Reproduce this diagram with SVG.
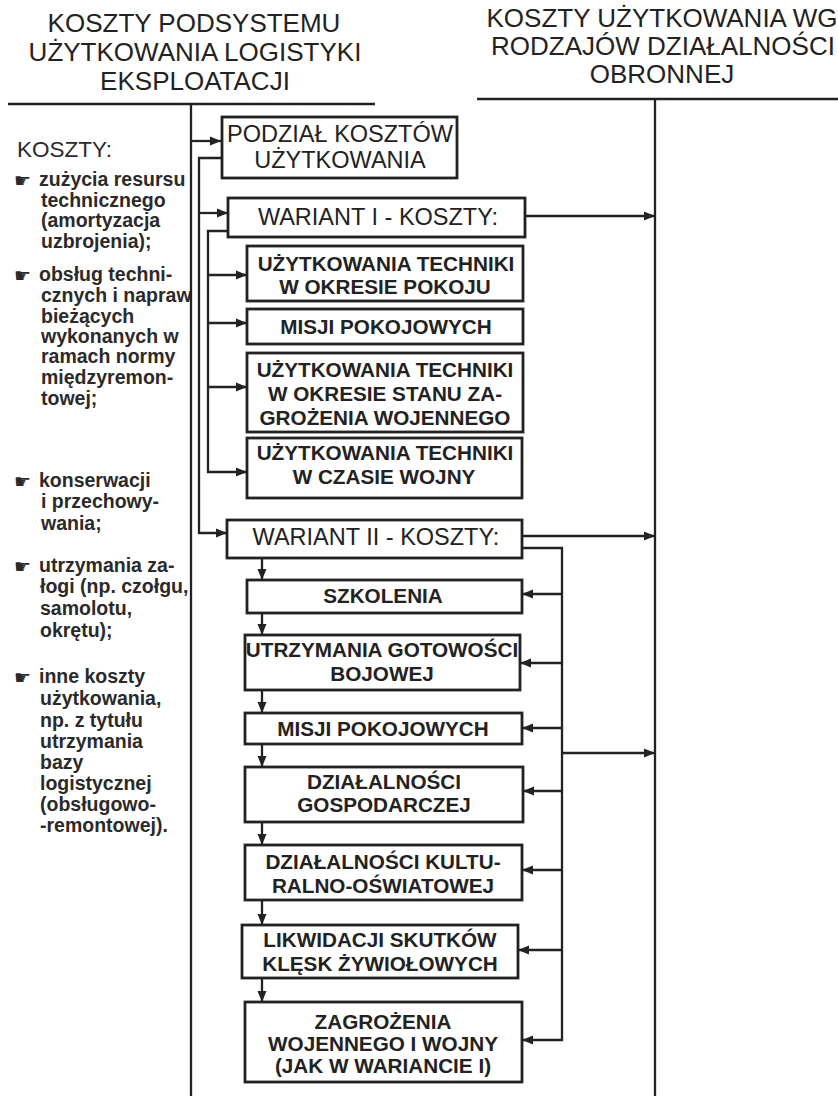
<svg xmlns="http://www.w3.org/2000/svg" width="838" height="1096" viewBox="0 0 838 1096">
<style>
.hdr{font-family:"Liberation Sans",Arial,sans-serif;font-size:26px;fill:#222;text-anchor:middle}
.lst{font-family:"Liberation Sans",Arial,sans-serif;font-size:19.5px;font-weight:bold;fill:#2a2a2a}
.kos{font-family:"Liberation Sans",Arial,sans-serif;font-size:22.5px;fill:#2a2a2a}
.bul{font-family:"DejaVu Sans",sans-serif;font-size:19px;fill:#2a2a2a}
.big{font-family:"Liberation Sans",Arial,sans-serif;font-size:23.5px;fill:#222;text-anchor:middle}
.bx{font-family:"Liberation Sans",Arial,sans-serif;font-size:20.7px;font-weight:bold;fill:#222;text-anchor:middle}
.box{fill:#fff;stroke:#222;stroke-width:2.8}
.ln{fill:none;stroke:#222;stroke-width:2.3}
.ar{fill:none;stroke:#222;stroke-width:2.3;marker-end:url(#ah)}
</style>
<defs>
<marker id="ah" markerUnits="userSpaceOnUse" markerWidth="12" markerHeight="10" refX="11" refY="5" orient="auto">
<path d="M0,0.5 L11,5 L0,9.5 z" fill="#222"/>
</marker>
</defs>
<rect width="838" height="1096" fill="#fff"/>

<g id="header-left">
<text class="hdr" x="194" y="32">KOSZTY PODSYSTEMU</text>
<text class="hdr" x="195" y="61">UŻYTKOWANIA LOGISTYKI</text>
<text class="hdr" x="195" y="90">EKSPLOATACJI</text>
</g>
<g id="header-right">
<text class="hdr" x="662" y="27">KOSZTY UŻYTKOWANIA WG</text>
<text class="hdr" x="663" y="55">RODZAJÓW DZIAŁALNOŚCI</text>
<text class="hdr" x="662" y="83">OBRONNEJ</text>
</g>

<g id="cost-list">
<text class="kos" x="17" y="157">KOSZTY:</text>
<text class="bul" x="14" y="187">☛</text>
<text class="lst" x="39" y="186">zużycia resursu</text>
<text class="lst" x="41" y="207">technicznego</text>
<text class="lst" x="41" y="227">(amortyzacja</text>
<text class="lst" x="41" y="248">uzbrojenia);</text>
<text class="bul" x="14" y="282">☛</text>
<text class="lst" x="39" y="281">obsług techni-</text>
<text class="lst" x="41" y="302">cznych i napraw</text>
<text class="lst" x="41" y="323">bieżących</text>
<text class="lst" x="41" y="343">wykonanych w</text>
<text class="lst" x="41" y="363">ramach normy</text>
<text class="lst" x="41" y="384">międzyremon-</text>
<text class="lst" x="41" y="405">towej;</text>
<text class="bul" x="14" y="488">☛</text>
<text class="lst" x="39" y="487">konserwacji</text>
<text class="lst" x="41" y="508">i przechowy-</text>
<text class="lst" x="41" y="530">wania;</text>
<text class="bul" x="14" y="573">☛</text>
<text class="lst" x="39" y="572">utrzymania za-</text>
<text class="lst" x="40" y="593">łogi (np. czołgu,</text>
<text class="lst" x="40" y="615">samolotu,</text>
<text class="lst" x="40" y="637">okrętu);</text>
<text class="bul" x="14" y="684">☛</text>
<text class="lst" x="39" y="683">inne koszty</text>
<text class="lst" x="40" y="705">użytkowania,</text>
<text class="lst" x="40" y="727">np. z tytułu</text>
<text class="lst" x="40" y="748">utrzymania</text>
<text class="lst" x="40" y="769">bazy</text>
<text class="lst" x="40" y="790">logistycznej</text>
<text class="lst" x="40" y="811">(obsługowo-</text>
<text class="lst" x="40" y="832">-remontowej).</text>
</g>

<g id="connectors">
<path class="ln" d="M8,104 H375"/>
<path class="ln" d="M477,99 H838"/>
<path class="ln" d="M191,104 V1096"/>
<path class="ln" d="M655,99 V1096"/>
<path class="ar" d="M191,141 H221"/>
<path class="ar" d="M222,158 H199 V533 H227"/>
<path class="ar" d="M199,213 H228"/>
<path class="ar" d="M228,231 H208 V472 H247"/>
<path class="ar" d="M208,275 H247"/>
<path class="ar" d="M208,323 H247"/>
<path class="ar" d="M208,387 H247"/>
<path class="ar" d="M525,216 H655"/>
<path class="ar" d="M522,536 H655"/>
<path class="ar" d="M522,548 H562 V1040 H522"/>
<path class="ar" d="M562,594 H522"/>
<path class="ar" d="M562,663 H520"/>
<path class="ar" d="M562,728 H522"/>
<path class="ar" d="M562,791 H523"/>
<path class="ar" d="M562,870 H522"/>
<path class="ar" d="M562,950 H518"/>
<path class="ar" d="M562,753 H655"/>
<path class="ar" d="M262,558 V580"/>
<path class="ar" d="M262,613 V635"/>
<path class="ar" d="M262,690 V713"/>
<path class="ar" d="M262,744 V767"/>
<path class="ar" d="M262,822 V845"/>
<path class="ar" d="M262,900 V925"/>
<path class="ar" d="M262,978 V1002"/>
</g>

<g id="podzial">
<rect class="box" x="222" y="117" width="235" height="61"/>
<text class="big" x="340" y="142">PODZIAŁ KOSZTÓW</text>
<text class="big" x="340" y="168">UŻYTKOWANIA</text>
</g>
<g id="wariant1">
<rect class="box" x="228" y="198" width="297" height="39"/>
<text class="big" x="378" y="225">WARIANT I - KOSZTY:</text>
</g>
<g id="w1-pokoj">
<rect class="box" x="247" y="246" width="276" height="55"/>
<text class="bx" x="386" y="271">UŻYTKOWANIA TECHNIKI</text>
<text class="bx" x="385" y="294">W OKRESIE POKOJU</text>
</g>
<g id="w1-misje">
<rect class="box" x="247" y="309" width="276" height="35"/>
<text class="bx" x="386" y="334">MISJI POKOJOWYCH</text>
</g>
<g id="w1-zagrozenie">
<rect class="box" x="247" y="353" width="276" height="79"/>
<text class="bx" x="385" y="377">UŻYTKOWANIA TECHNIKI</text>
<text class="bx" x="385" y="401">W OKRESIE STANU ZA-</text>
<text class="bx" x="385" y="425">GROŻENIA WOJENNEGO</text>
</g>
<g id="w1-wojna">
<rect class="box" x="247" y="438" width="275" height="60"/>
<text class="bx" x="385" y="460">UŻYTKOWANIA TECHNIKI</text>
<text class="bx" x="384" y="484">W CZASIE WOJNY</text>
</g>
<g id="wariant2">
<rect class="box" x="227" y="520" width="295" height="38"/>
<text class="big" x="376" y="545">WARIANT II - KOSZTY:</text>
</g>
<g id="w2-szkolenia">
<rect class="box" x="247" y="580" width="275" height="33"/>
<text class="bx" x="383" y="603">SZKOLENIA</text>
</g>
<g id="w2-gotowosc">
<rect class="box" x="245" y="635" width="275" height="55"/>
<text class="bx" x="382" y="657">UTRZYMANIA GOTOWOŚCI</text>
<text class="bx" x="382" y="681">BOJOWEJ</text>
</g>
<g id="w2-misje">
<rect class="box" x="245" y="713" width="277" height="31"/>
<text class="bx" x="383" y="736">MISJI POKOJOWYCH</text>
</g>
<g id="w2-gospodarcza">
<rect class="box" x="245" y="767" width="278" height="55"/>
<text class="bx" x="384" y="789">DZIAŁALNOŚCI</text>
<text class="bx" x="384" y="812">GOSPODARCZEJ</text>
</g>
<g id="w2-kultura">
<rect class="box" x="245" y="845" width="277" height="55"/>
<text class="bx" x="383" y="869">DZIAŁALNOŚCI KULTU-</text>
<text class="bx" x="383" y="893">RALNO-OŚWIATOWEJ</text>
</g>
<g id="w2-kleski">
<rect class="box" x="242" y="925" width="276" height="53"/>
<text class="bx" x="380" y="947">LIKWIDACJI SKUTKÓW</text>
<text class="bx" x="380" y="971">KLĘSK ŻYWIOŁOWYCH</text>
</g>
<g id="w2-wojna">
<rect class="box" x="245" y="1002" width="277" height="80"/>
<text class="bx" x="383" y="1029">ZAGROŻENIA</text>
<text class="bx" x="383" y="1051">WOJENNEGO I WOJNY</text>
<text class="bx" x="383" y="1073">(JAK W WARIANCIE I)</text>
</g>
</svg>
